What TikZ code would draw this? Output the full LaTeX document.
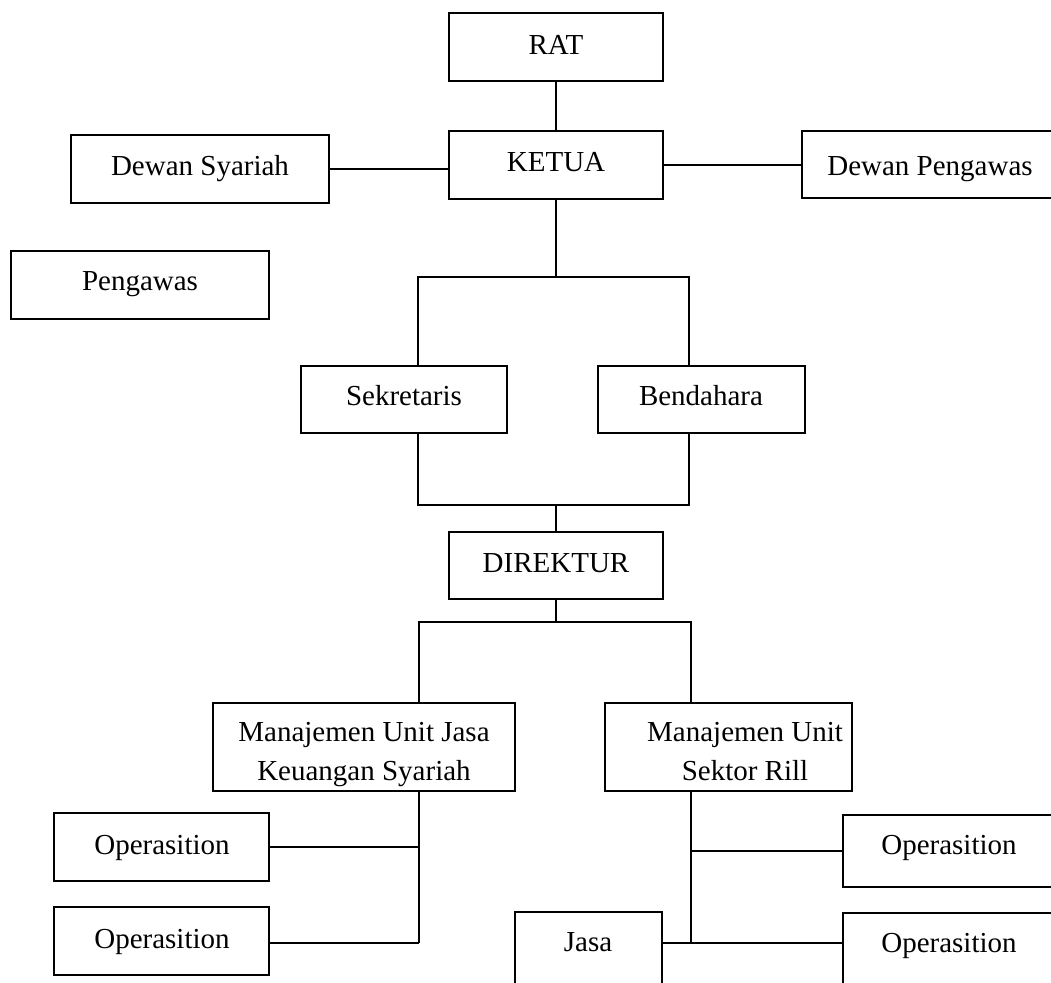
\documentclass[tikz,border=0pt]{standalone}
\usepackage{fontspec}
\setmainfont{Liberation Serif}
\usetikzlibrary{calc}
\newcommand\orgbox[5]{\node[box,minimum width=#4*0.5pt,minimum height=#5*0.5pt] (#1) at (#2,#3) {};}
\begin{document}
\begin{tikzpicture}[x=0.5pt,y=-0.5pt,
  box/.style={draw,line width=0.95pt,inner sep=0pt,outer sep=0pt,anchor=north west},
  lbl/.style={anchor=base,inner sep=0pt,font=\fontsize{14.5}{20}\selectfont},
  conn/.style={line width=0.95pt}]
\useasboundingbox (0,0) rectangle (1051,982);
\clip (0,0) rectangle (1051,982);
% boxes
\orgbox{rat}{449}{13}{214}{68}
\orgbox{ketua}{449}{131}{214}{68}
\orgbox{dsy}{71}{135}{258}{68}
\orgbox{dpg}{802}{131}{262}{67}
\orgbox{peng}{11}{251}{258}{68}
\orgbox{sek}{301}{366}{206}{67}
\orgbox{bend}{598}{366}{207}{67}
\orgbox{dir}{449}{532}{214}{67}
\orgbox{mja}{213}{703}{302}{88}
\orgbox{mjb}{605}{703}{247}{88}
\orgbox{opa}{54}{813}{215}{68}
\orgbox{opb}{54}{907}{215}{68}
\orgbox{opc}{843}{815}{220}{72}
\orgbox{opd}{843}{913}{220}{100}
\orgbox{jasa}{515}{912}{147}{100}
% labels
\node[lbl] (tRat) at (556,54) {RAT};
\node[lbl] (tKetua) at (556,171) {KETUA};
\node[lbl] (tDsy) at (200,175) {Dewan Syariah};
\node[lbl] (tDpg) at (930,175) {Dewan Pengawas};
\node[lbl] (tPeng) at (140,290) {Pengawas};
\node[lbl] (tSek) at (404,405) {Sekretaris};
\node[lbl] (tBend) at (701,405) {Bendahara};
\node[lbl] (tDir) at (556,572) {DIREKTUR};
\node[lbl] (tMjaA) at (364,741) {Manajemen Unit Jasa};
\node[lbl] (tMjaB) at (364,780) {Keuangan Syariah};
\node[lbl] (tMjbA) at (745,741) {Manajemen Unit};
\node[lbl] (tMjbB) at (745,780) {Sektor Rill};
\node[lbl] (tOpa) at (162,854) {Operasition};
\node[lbl] (tOpb) at (162,948) {Operasition};
\node[lbl] (tOpc) at (949,854) {Operasition};
\node[lbl] (tOpd) at (949,952) {Operasition};
\node[lbl] (tJasa) at (588,951) {Jasa};
% bus coordinates
\coordinate (busA) at (556,277);
\coordinate (sekX) at (418,277);
\coordinate (bendX) at (689,277);
\coordinate (busB) at (556,505);
\coordinate (busC) at (556,622);
\coordinate (mjaX) at (419,622);
\coordinate (mjbX) at (691,622);
\coordinate (legA) at (419,943);
\coordinate (legB) at (691,943);
% connectors
\draw[conn] (rat.south) -- (ketua.north);
\draw[conn] (dsy.east) -- (dsy.east -| ketua.west);
\draw[conn] (ketua.east) -- (ketua.east -| dpg.west);
\draw[conn] (ketua.south) -- (busA);
\draw[conn] (sekX |- sek.north) -- (sekX) -- (bendX) -- (bendX |- bend.north);
\draw[conn] (sekX |- sek.south) -- (sekX |- busB) -- (bendX |- busB) -- (bendX |- bend.south);
\draw[conn] (busB) -- (dir.north);
\draw[conn] (dir.south) -- (busC);
\draw[conn] (mjaX |- mja.north) -- (mjaX) -- (mjbX) -- (mjbX |- mjb.north);
\draw[conn] (legA |- mja.south) -- (legA);
\draw[conn] (opa.east) -- (opa.east -| legA);
\draw[conn] (opb.east |- legA) -- (legA);
\draw[conn] (legB |- mjb.south) -- (legB);
\draw[conn] (legB |- opc.west) -- (opc.west);
\draw[conn] (jasa.east |- legB) -- (opd.west |- legB);
\end{tikzpicture}
\end{document}
